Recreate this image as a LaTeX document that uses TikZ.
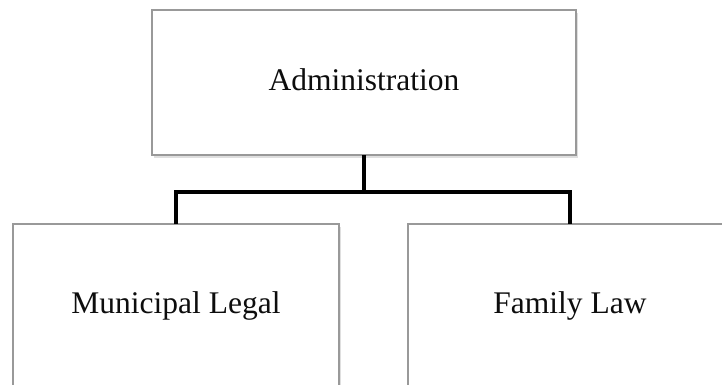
\documentclass[tikz,border=0pt]{standalone}
\usepackage{fontspec}
\setmainfont{Liberation Serif}
\usetikzlibrary{shadows}
\begin{document}
\begin{tikzpicture}[x=1pt,y=-1pt,
  orgbox/.style={draw=black!40, line width=1.1pt, fill=white, rectangle, outer sep=0pt,
    drop shadow={opacity=0.25, shadow xshift=1.5pt, shadow yshift=-3pt}},
  orglabel/.style={font=\fontsize{31.5}{36}\selectfont, text=black!95, inner sep=0pt},
  link/.style={line width=4pt, black}]
  \useasboundingbox (0,0) rectangle (722,385);
  \clip (0,0) rectangle (722,385);
  % boxes
  \node[orgbox, minimum width=424pt, minimum height=145pt, anchor=north west] (admin) at (152,10) {};
  \node[orgbox, minimum width=326pt, minimum height=190pt, anchor=north west] (muni) at (13,224) {};
  \node[orgbox, minimum width=324pt, minimum height=190pt, anchor=north west] (family) at (408,224) {};
  % labels
  \node[orglabel, anchor=base] (adminlabel) at (364,91) {Administration};
  \node[orglabel, anchor=base] (munilabel) at (176,313) {Municipal Legal};
  \node[orglabel, anchor=base] (familylabel) at (570,313) {Family Law};
  % connectors: stub from the top box down into the bus, then the bus to both children
  \path (admin.south) ++(0,37) coordinate (bus) ++(0,2) coordinate (busjoin);
  \draw[link] (admin.south) -- (busjoin);
  \draw[link, line join=miter] (muni.north) -- (muni.north |- bus) -- (family.north |- bus) -- (family.north);
\end{tikzpicture}
\end{document}
